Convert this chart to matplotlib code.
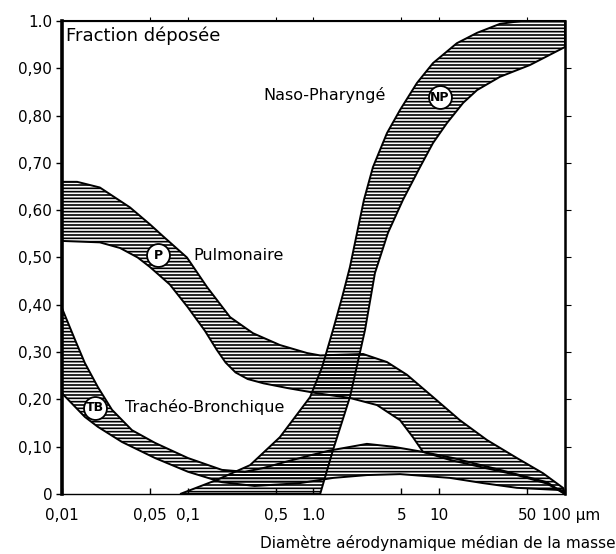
import matplotlib
matplotlib.use("Agg")
import matplotlib.pyplot as plt
from matplotlib.ticker import FixedLocator, NullLocator

plt.rcParams["font.family"] = "DejaVu Sans"
plt.rcParams["hatch.linewidth"] = 1.2

# Naso-Pharynge band (upper / left edge, lower / right edge)
np_up_x = [0.087, 0.171, 0.313, 0.54, 0.94, 1.17, 1.43, 1.69, 1.95, 2.22, 2.52, 2.97, 3.84,
           4.88, 6.65, 8.92, 13.8, 20.0, 30.4, 45.0, 100]
np_up_y = [0.0, 0.03, 0.061, 0.12, 0.205, 0.268, 0.347, 0.416, 0.48, 0.552, 0.622, 0.691, 0.763,
           0.812, 0.869, 0.911, 0.953, 0.975, 0.994, 1.0, 1.0]
np_lo_x = [1.13, 1.43, 1.95, 2.57, 3.08, 3.91, 5.15, 7.03, 8.92, 11.5, 15.5, 20.0, 30.4, 52.7, 100]
np_lo_y = [0.0, 0.093, 0.205, 0.347, 0.467, 0.552, 0.622, 0.691, 0.742, 0.784, 0.827, 0.854,
           0.882, 0.907, 0.945]

# Pulmonaire band
p_up_x = [0.01, 0.0132, 0.020, 0.0347, 0.0501, 0.0636, 0.0986, 0.142, 0.217, 0.33, 0.54,
          0.89, 1.13, 2.48, 3.84, 5.54, 8.92, 14.6, 24.0, 41.5, 66.8, 96.4, 100]
p_up_y = [0.66, 0.66, 0.648, 0.606, 0.57, 0.545, 0.50, 0.438, 0.374, 0.34, 0.315,
          0.298, 0.293, 0.296, 0.279, 0.252, 0.205, 0.156, 0.114, 0.076, 0.044, 0.013, 0.0]
p_lo_x = [0.01, 0.020, 0.029, 0.040, 0.050, 0.072, 0.10, 0.137, 0.17, 0.20, 0.24, 0.30, 0.40,
          0.62, 1.07, 1.95, 3.2, 4.88, 6.18, 7.43, 12.2, 22.3, 41.5, 72.0, 100]
p_lo_y = [0.535, 0.532, 0.52, 0.50, 0.48, 0.443, 0.395, 0.345, 0.305, 0.278, 0.257, 0.243, 0.234,
          0.224, 0.213, 0.203, 0.188, 0.156, 0.12, 0.089, 0.072, 0.056, 0.04, 0.022, 0.0]

# Tracheo-Bronchique band
tb_up_x = [0.01, 0.0127, 0.0152, 0.0193, 0.025, 0.036, 0.055, 0.1005, 0.187, 0.285, 0.4, 0.6,
           0.95, 1.35, 2.66, 4.29, 7.43, 12.9, 30.4, 71.9, 100]
tb_up_y = [0.393, 0.326, 0.277, 0.226, 0.178, 0.135, 0.108, 0.076, 0.051, 0.047, 0.055, 0.068,
           0.082, 0.092, 0.106, 0.10, 0.089, 0.076, 0.051, 0.025, 0.0]
tb_lo_x = [0.01, 0.0152, 0.0193, 0.030, 0.055, 0.1005, 0.187, 0.34, 0.78, 1.43, 2.66, 4.88,
           12.2, 22.3, 41.5, 96.4, 100]
tb_lo_y = [0.213, 0.163, 0.142, 0.110, 0.076, 0.047, 0.025, 0.017, 0.023, 0.034, 0.04, 0.042,
           0.034, 0.023, 0.013, 0.008, 0.0]

# circled markers on each band
mark_x = [10.1, 0.058, 0.0183]
mark_y = [0.839, 0.505, 0.182]
mark_txt = ["NP", "P", "TB"]

x_ticks = [0.01, 0.05, 0.1, 0.5, 1.0, 5, 10, 50, 100]
x_labels = ["0,01", "0,05", "0,1", "0,5", "1.0", "5", "10", "50", ""]
y_ticks = [0, 0.1, 0.2, 0.3, 0.4, 0.5, 0.6, 0.7, 0.8, 0.9, 1.0]
y_labels = ["0", "0,10", "0,20", "0,30", "0,40", "0,50", "0,60", "0,70", "0,80", "0,90", "1.0"]

fig = plt.figure(figsize=(6.16, 5.54), dpi=100)
ax = fig.add_axes([0.1006, 0.1083, 0.8166, 0.8538])
ax.set_xscale("log")
ax.set_xlim(0.01, 100)
ax.set_ylim(0, 1.0)


def band(xu, yu, xl, yl):
    xs = list(xu) + list(xl)[::-1]
    ys = list(yu) + list(yl)[::-1]
    ax.fill(xs, ys, facecolor="none", edgecolor="black", hatch="-----", linewidth=1.4)


band(p_up_x, p_up_y, p_lo_x, p_lo_y)
band(tb_up_x, tb_up_y, tb_lo_x, tb_lo_y)
band(np_up_x, np_up_y, np_lo_x, np_lo_y)

# axes frame and ticks
ax.spines["left"].set_linewidth(2.6)
ax.spines["top"].set_linewidth(1.5)
ax.spines["right"].set_linewidth(1.8)
ax.spines["bottom"].set_linewidth(1.0)

ax.xaxis.set_major_locator(FixedLocator(x_ticks))
ax.xaxis.set_minor_locator(NullLocator())
ax.set_xticklabels(x_labels)
ax.set_yticks(y_ticks)
ax.set_yticklabels(y_labels)
ax.tick_params(axis="x", direction="in", length=4, width=1, pad=10, labelsize=11)
ax.tick_params(axis="y", direction="out", length=4, width=1, pad=3, labelsize=11)

top = ax.secondary_xaxis("top")
top.xaxis.set_major_locator(FixedLocator([0.05, 0.1, 0.5, 1.0, 5, 10, 50]))
top.xaxis.set_minor_locator(NullLocator())
top.tick_params(direction="out", length=3, labeltop=False)
right = ax.secondary_yaxis("right")
right.set_yticks([0.1, 0.2, 0.3, 0.4, 0.5, 0.6, 0.7, 0.8, 0.9])
right.tick_params(direction="out", length=4, labelright=False)

# labels
ax.text(0.008, 0.968, "Fraction déposée", transform=ax.transAxes, ha="left", va="center", fontsize=13)
ax.text(0.396, 0.843, "Naso-Pharyngé", ha="left", va="center", fontsize=11.5)
ax.text(0.110, 0.505, "Pulmonaire", ha="left", va="center", fontsize=11.5)
ax.text(0.0317, 0.184, "Trachéo-Bronchique", ha="left", va="center", fontsize=11.5)

ax.plot(mark_x, mark_y, linestyle="none", marker="o", markersize=16.5,
        markerfacecolor="white", markeredgecolor="black", markeredgewidth=1.3, zorder=5)
for mx, my, mt in zip(mark_x, mark_y, mark_txt):
    ax.text(mx, my, mt, ha="center", va="center", fontsize=9, fontweight="bold", zorder=6)

# last tick label with its unit, set a little left of the tick as in the original
fig.text(0.880, 0.0686, "100 µm", ha="left", va="center", fontsize=11)
fig.text(0.999, 0.0199, "Diamètre aérodynamique médian de la masse", ha="right", va="center", fontsize=11)

fig.savefig("out.png", dpi=100)
